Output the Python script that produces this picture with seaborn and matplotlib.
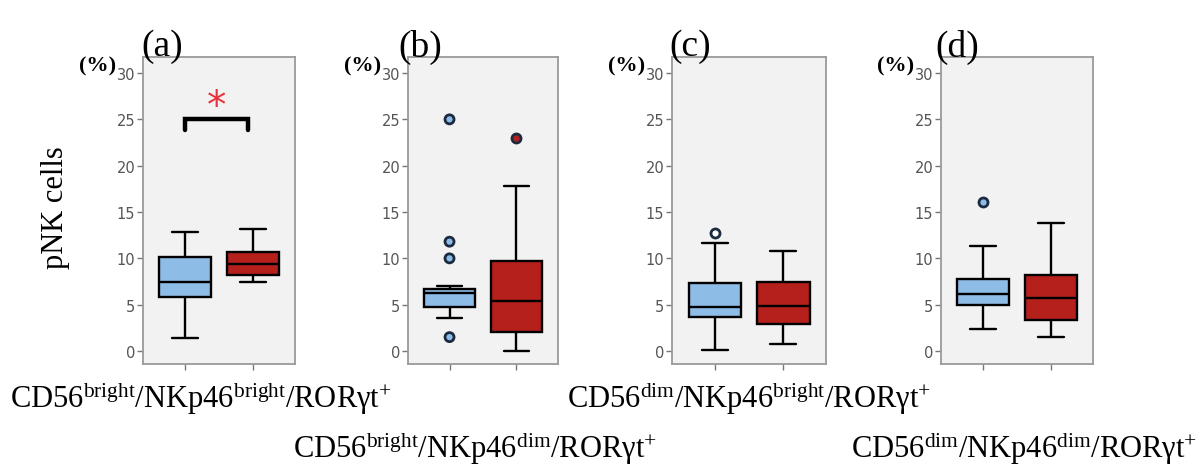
import pandas as pd
import matplotlib
matplotlib.use("Agg")
import matplotlib.pyplot as plt
import seaborn as sns

# two groups in every panel (blue / red), no tick labels on x
groups = ["g1", "g2"]
panel_tags = ["(a)", "(b)", "(c)", "(d)"]

# five-number summaries: low whisker, Q1, median, Q3, high whisker
box_a_blue = [1.4, 5.8, 7.5, 10.2, 12.8]
box_a_red = [7.4, 8.2, 9.4, 10.7, 13.2]
box_b_blue = [3.6, 4.7, 6.3, 6.7, 7.0]
box_b_red = [0.0, 2.0, 5.4, 9.7, 17.8]
box_c_blue = [0.1, 3.7, 4.8, 7.3, 11.7]
box_c_red = [0.8, 2.9, 4.9, 7.5, 10.8]
box_d_blue = [2.4, 5.0, 6.2, 7.8, 11.3]
box_d_red = [1.5, 3.4, 5.7, 8.2, 13.8]

# outliers
out_a_blue, out_a_red = [], []
out_b_blue, out_b_red = [25.0, 11.8, 10.0, 1.5], [23.0]
out_c_blue, out_c_red = [12.7], []
out_d_blue, out_d_red = [16.1], []

x_labels = [
    "CD56$^{\\mathrm{bright}}$/NKp46$^{\\mathrm{bright}}$/RORγt$^{\\mathrm{+}}$",
    "CD56$^{\\mathrm{bright}}$/NKp46$^{\\mathrm{dim}}$/RORγt$^{\\mathrm{+}}$",
    "CD56$^{\\mathrm{dim}}$/NKp46$^{\\mathrm{bright}}$/RORγt$^{\\mathrm{+}}$",
    "CD56$^{\\mathrm{dim}}$/NKp46$^{\\mathrm{dim}}$/RORγt$^{\\mathrm{+}}$",
]
y_ticks = [0, 5, 10, 15, 20, 25, 30]

boxes = [(box_a_blue, box_a_red), (box_b_blue, box_b_red),
         (box_c_blue, box_c_red), (box_d_blue, box_d_red)]
outs = [(out_a_blue, out_a_red), (out_b_blue, out_b_red),
        (out_c_blue, out_c_red), (out_d_blue, out_d_red)]

BLUE = "#8dbde6"
RED = "#b5201c"
flier_fill = [[BLUE, RED], [BLUE, RED], ["white", RED], [BLUE, RED]]

sns.set_theme(style="ticks")
plt.rcParams["font.family"] = ["DejaVu Sans"]
plt.rcParams["text.color"] = "black"
plt.rcParams["mathtext.fontset"] = "custom"
plt.rcParams["mathtext.rm"] = "Liberation Serif"
plt.rcParams["mathtext.it"] = "Liberation Serif:italic"

W, H = 1204, 477
fig = plt.figure(figsize=(W / 100, H / 100), dpi=100)


def fx(x):
    return x / W


def fy(y):
    return 1 - y / H


# axes frames in pixels (left, right); top/bottom shared
frames = [(143, 295), (408, 558), (672, 826), (941, 1093)]
top_px, bot_px = 58, 365
tag_x = [162, 420, 690, 957]
lab_pos = [(10, 398), (293, 448), (567, 398), (851, 448)]

for i, (l, r) in enumerate(frames):
    ax = fig.add_axes([fx(l), fy(bot_px), (r - l) / W, (bot_px - top_px) / H])
    rows = []
    for g, vals in zip(groups, boxes[i]):
        rows += [{"group": g, "value": v} for v in vals]
    df = pd.DataFrame(rows)
    sns.boxplot(data=df, x="group", y="value", hue="group", order=groups,
                hue_order=groups, palette=[BLUE, RED], saturation=1,
                whis=(0, 100), width=0.76, linecolor="black", linewidth=1.7,
                legend=False, ax=ax)

    orows = []
    for g, vals in zip(groups, outs[i]):
        orows += [{"group": g, "value": v} for v in vals]
    if orows:
        odf = pd.DataFrame(orows)
        pal = dict(zip(groups, flier_fill[i]))
        sns.stripplot(data=odf, x="group", y="value", hue="group", order=groups,
                      hue_order=groups, palette=pal, jitter=False, size=6.5,
                      linewidth=2, edgecolor="#1b2a3f", legend=False, ax=ax)

    ax.set_xlim(-0.62, 1.62)
    ax.set_ylim(-1.4, 31.73)
    ax.set_yticks(y_ticks)
    ax.set_xticks([0, 1])
    ax.set_xticklabels([])
    ax.set_xlabel("")
    ax.set_ylabel("")
    ax.set_facecolor("#f2f2f2")
    for s in ax.spines.values():
        s.set_color("#9a9a9a")
        s.set_linewidth(1.3)
    ax.tick_params(axis="both", colors="#777777", length=4, width=1,
                   labelsize=10.5, labelcolor="#555555", pad=1.5)

    fig.text(fx(tag_x[i]), fy(47), panel_tags[i], family="Liberation Serif",
             fontsize=27, ha="center", va="center", color="black")
    fig.text(fx(l - 27), fy(66), "(%)", family="Liberation Serif",
             fontsize=16, fontweight="bold", ha="right", va="center",
             color="black")
    fig.text(fx(lab_pos[i][0]), fy(lab_pos[i][1]), x_labels[i],
             family="Liberation Serif", fontsize=22, ha="left", va="center",
             color="black")

    if i == 0:
        # significance bracket between the two groups
        ax.plot([0, 0, 0.93, 0.93], [23.8, 25, 25, 23.8], color="black",
                lw=3.2, solid_joinstyle="miter")
        ax.text(0.46, 26.4, "*", color="#e8323a", fontsize=28,
                ha="center", va="center", family="DejaVu Sans")

fig.text(fx(55), fy(208), "pNK cells", family="Liberation Serif",
         fontsize=22, rotation=90, ha="center", va="center", color="black")

fig.savefig("out.png", dpi=100)
